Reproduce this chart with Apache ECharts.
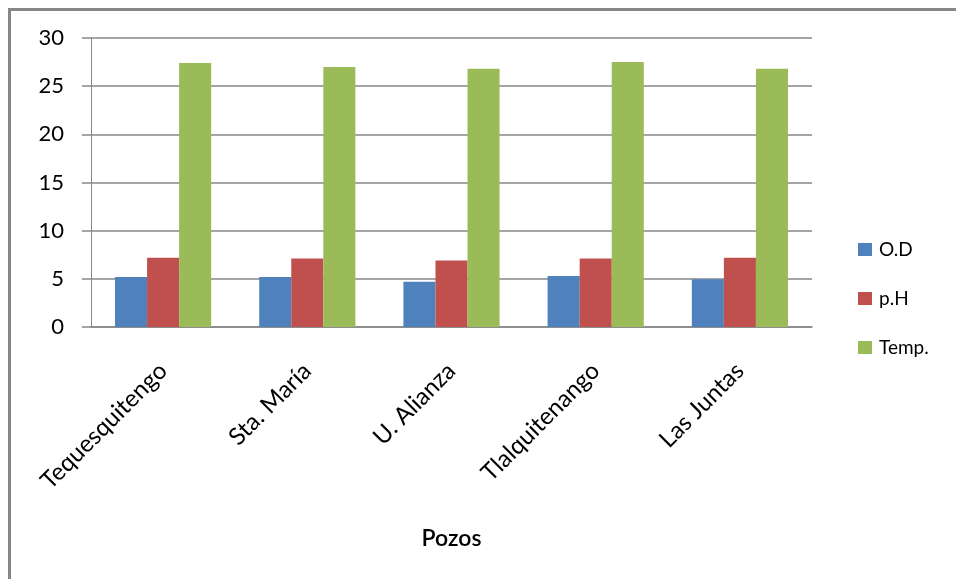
<!DOCTYPE html>
<html>
<head>
<meta charset="utf-8">
<script src="https://cdn.jsdelivr.net/npm/echarts@6/dist/echarts.min.js"></script>
<style>
  html, body { margin: 0; padding: 0; background: #fff; }
  #chart { width: 956px; height: 579px; }
</style>
</head>
<body>
<div id="chart"></div>
<script>
// Water quality per well: dissolved oxygen, pH and temperature
const pozos = ['Tequesquitengo', 'Sta. María', 'U. Alianza', 'Tlalquitenango', 'Las Juntas'];
const od    = [5.2, 5.2, 4.7, 5.3, 4.95];
const ph    = [7.2, 7.1, 6.9, 7.1, 7.2];
const temp  = [27.4, 27.0, 26.8, 27.5, 26.8];
const yTicks = { min: 0, max: 30, interval: 5 };

const FONT = 'Lato, "Open Sans", sans-serif';
const GRID_GRAY = '#878787';

const chart = echarts.init(document.getElementById('chart'), null, { renderer: 'canvas' });

chart.setOption({
  backgroundColor: '#ffffff',
  animation: false,
  textStyle: { fontFamily: FONT, color: '#000' },
  graphic: [{
    type: 'rect',
    shape: { x: 9.5, y: 9.5, width: 1200, height: 800 },
    style: { fill: 'none', stroke: GRID_GRAY, lineWidth: 3 },
    silent: true,
    z: -1
  }],
  grid: { left: 91, right: 144, top: 38, bottom: 252, containLabel: false },
  legend: {
    orient: 'vertical',
    left: 853,
    top: 235,
    itemWidth: 14,
    itemHeight: 13,
    itemGap: 30,
    icon: 'rect',
    textStyle: { fontFamily: FONT, fontSize: 19, color: '#000', lineHeight: 17, padding: [0, 0, 0, 2] },
    data: ['O.D', 'p.H', 'Temp.']
  },
  xAxis: {
    type: 'category',
    data: pozos,
    name: 'Pozos',
    nameLocation: 'middle',
    nameGap: 200,
    nameTextStyle: { fontFamily: FONT, fontSize: 23, fontWeight: 600, color: '#000' },
    axisLine: { show: true, lineStyle: { color: GRID_GRAY, width: 1.5 } },
    axisTick: { show: false },
    axisLabel: { rotate: 45, margin: 40, fontFamily: FONT, fontSize: 24, color: '#000', interval: 0 },
    splitLine: { show: false }
  },
  yAxis: {
    type: 'value',
    min: yTicks.min,
    max: yTicks.max,
    interval: yTicks.interval,
    axisLine: { show: true, lineStyle: { color: GRID_GRAY, width: 1 } },
    axisTick: { show: true, length: 9, lineStyle: { color: GRID_GRAY, width: 1.5 } },
    axisLabel: { margin: 27, fontFamily: FONT, fontSize: 22, color: '#000' },
    splitLine: { show: true, lineStyle: { color: GRID_GRAY, width: 1.5 } }
  },
  series: [
    { name: 'O.D',   type: 'bar', data: od,   itemStyle: { color: '#4F81BD' }, barGap: '0%', barCategoryGap: '33.3%' },
    { name: 'p.H',   type: 'bar', data: ph,   itemStyle: { color: '#C0504D' }, barGap: '0%', barCategoryGap: '33.3%' },
    { name: 'Temp.', type: 'bar', data: temp, itemStyle: { color: '#9BBB59' }, barGap: '0%', barCategoryGap: '33.3%' }
  ]
});
</script>
</body>
</html>
